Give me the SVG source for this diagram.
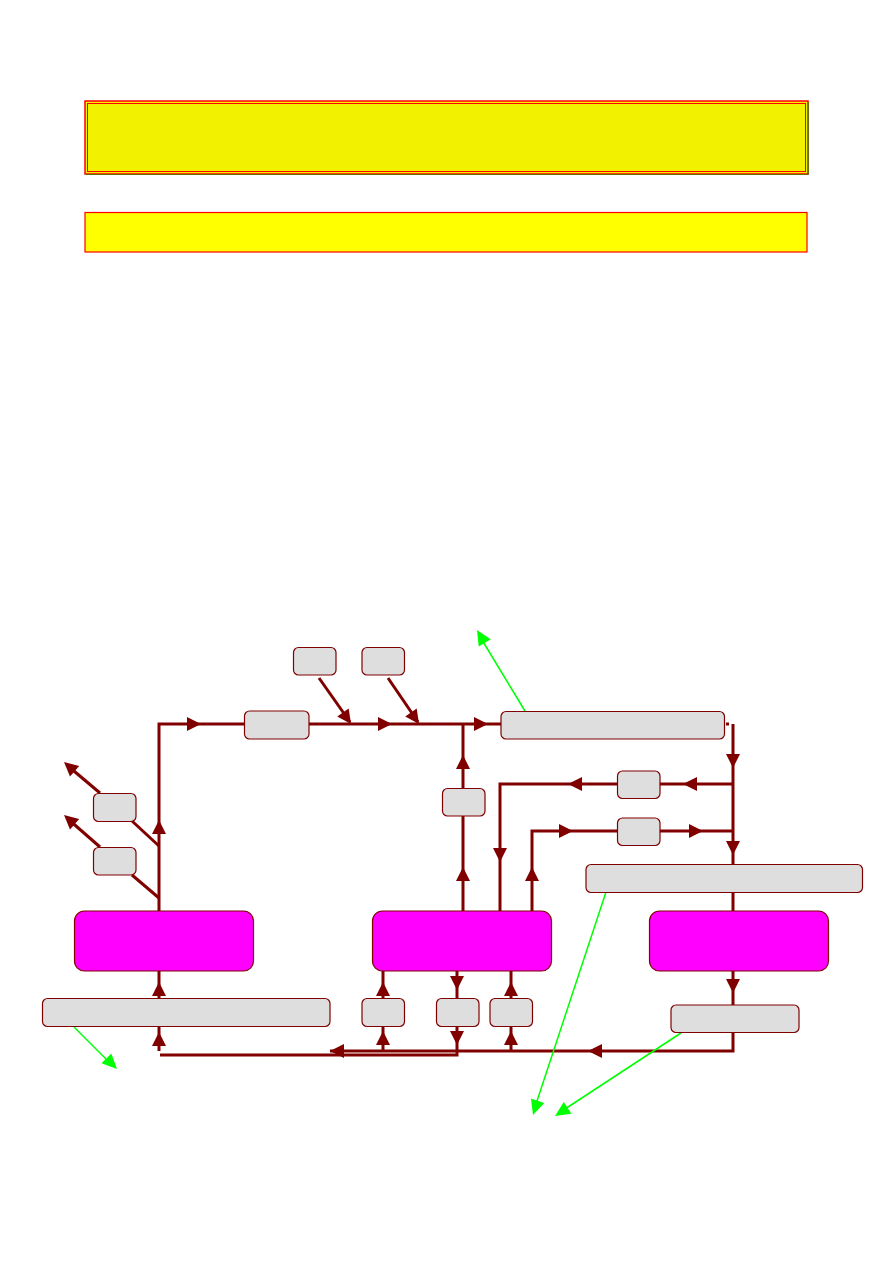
<svg xmlns="http://www.w3.org/2000/svg" xmlns:xlink="http://www.w3.org/1999/xlink" width="893" height="1263" viewBox="0 0 893 1263">
<style>
.ln{stroke:#800000;stroke-width:3;fill:none}
.gl{stroke:#00ff00;stroke-width:1.5;fill:none}
.bx{fill:#dedede;stroke:#800000;stroke-width:1.2}
.mg{fill:#ff00ff;stroke:#800000;stroke-width:1.2}
</style>
<defs>
<polygon id="ah" points="0,0 -14,-7 -14,7" fill="#800000"/>
<polygon id="gh" points="0,0 -15,-7 -15,7" fill="#00ff00"/>
</defs>
<g id="title1">
<rect x="85" y="101" width="723" height="73" fill="#f2f200" stroke="#ff0000" stroke-width="1.5"/>
<rect x="87.5" y="103.5" width="718" height="68" fill="none" stroke="#ff0000" stroke-width="1"/>
<polyline points="86,174.5 808.5,174.5 808.5,102" fill="none" stroke="#6b6b00" stroke-width="1"/>
</g>
<g id="title2">
<rect x="85" y="212.5" width="722" height="39.5" fill="#ffff00" stroke="#ff0000" stroke-width="1.2"/>
</g>
<g id="connectors">
<polyline class="ln" points="159,911 159,724 245,724"/>
<line class="ln" x1="309" y1="724" x2="501" y2="724"/>
<line class="ln" x1="319" y1="678" x2="350" y2="722"/>
<line class="ln" x1="388" y1="678" x2="418" y2="722"/>
<line class="ln" x1="463" y1="724" x2="463" y2="788"/>
<line class="ln" x1="463" y1="816" x2="463" y2="911"/>
<polyline class="ln" points="500,911 500,784 617,784"/>
<line class="ln" x1="660" y1="784" x2="733" y2="784"/>
<polyline class="ln" points="532,911 532,831 617,831"/>
<line class="ln" x1="660" y1="831" x2="733" y2="831"/>
<rect x="726" y="722.5" width="3" height="3" fill="#800000"/>
<line class="ln" x1="733" y1="724" x2="733" y2="864"/>
<line class="ln" x1="733" y1="892" x2="733" y2="911"/>
<line class="ln" x1="733" y1="971" x2="733" y2="1005"/>
<polyline class="ln" points="733,1033 733,1051 330,1051"/>
<line class="ln" x1="159" y1="1027" x2="159" y2="1051"/>
<polyline class="ln" points="160,1055 457,1055 457,1027"/>
<line class="ln" x1="159" y1="971" x2="159" y2="998"/>
<line class="ln" x1="383" y1="971" x2="383" y2="998"/>
<line class="ln" x1="457" y1="971" x2="457" y2="998"/>
<line class="ln" x1="511" y1="971" x2="511" y2="998"/>
<line class="ln" x1="383" y1="1027" x2="383" y2="1051"/>
<line class="ln" x1="511" y1="1027" x2="511" y2="1051"/>
<line class="ln" x1="132" y1="821" x2="159" y2="846"/>
<line class="ln" x1="132" y1="875" x2="159" y2="898"/>
<line class="ln" x1="100" y1="793" x2="68" y2="766"/>
<line class="ln" x1="100" y1="847" x2="68" y2="819"/>
<line class="gl" x1="525" y1="711" x2="482" y2="640"/>
<line class="gl" x1="74" y1="1027" x2="109" y2="1062"/>
<line class="gl" x1="606" y1="892" x2="536" y2="1104"/>
<line class="gl" x1="681" y1="1033" x2="565" y2="1109"/>
<use xlink:href="#ah" transform="translate(201,724)"/>
<use xlink:href="#ah" transform="translate(392,724)"/>
<use xlink:href="#ah" transform="translate(488,724)"/>
<use xlink:href="#ah" transform="translate(573,831)"/>
<use xlink:href="#ah" transform="translate(703,831)"/>
<use xlink:href="#ah" transform="translate(159,820) rotate(-90)"/>
<use xlink:href="#ah" transform="translate(463,755) rotate(-90)"/>
<use xlink:href="#ah" transform="translate(463,867) rotate(-90)"/>
<use xlink:href="#ah" transform="translate(532,867) rotate(-90)"/>
<use xlink:href="#ah" transform="translate(159,982) rotate(-90)"/>
<use xlink:href="#ah" transform="translate(159,1032) rotate(-90)"/>
<use xlink:href="#ah" transform="translate(383,982) rotate(-90)"/>
<use xlink:href="#ah" transform="translate(383,1031) rotate(-90)"/>
<use xlink:href="#ah" transform="translate(511,982) rotate(-90)"/>
<use xlink:href="#ah" transform="translate(511,1031) rotate(-90)"/>
<use xlink:href="#ah" transform="translate(733,768) rotate(90)"/>
<use xlink:href="#ah" transform="translate(733,855) rotate(90)"/>
<use xlink:href="#ah" transform="translate(500,862) rotate(90)"/>
<use xlink:href="#ah" transform="translate(457,990) rotate(90)"/>
<use xlink:href="#ah" transform="translate(457,1045) rotate(90)"/>
<use xlink:href="#ah" transform="translate(733,993) rotate(90)"/>
<use xlink:href="#ah" transform="translate(683,784) rotate(180)"/>
<use xlink:href="#ah" transform="translate(568,784) rotate(180)"/>
<use xlink:href="#ah" transform="translate(330,1051) rotate(180)"/>
<use xlink:href="#ah" transform="translate(588,1051) rotate(180)"/>
<use xlink:href="#ah" transform="translate(351,724) rotate(55)"/>
<use xlink:href="#ah" transform="translate(419,724) rotate(55)"/>
<use xlink:href="#ah" transform="translate(64,762) rotate(221)"/>
<use xlink:href="#ah" transform="translate(64,815) rotate(221)"/>
<use xlink:href="#gh" transform="translate(477,630) rotate(239)"/>
<use xlink:href="#gh" transform="translate(117,1069) rotate(45)"/>
<use xlink:href="#gh" transform="translate(533,1115) rotate(108)"/>
<use xlink:href="#gh" transform="translate(555,1116) rotate(147)"/>
</g>
<g id="boxA"><rect class="bx" x="244.5" y="711" width="64.5" height="28" rx="5"/></g>
<g id="boxT1"><rect class="bx" x="293.5" y="647.5" width="42.5" height="27.5" rx="5"/></g>
<g id="boxT2"><rect class="bx" x="362" y="647.5" width="42.5" height="27.5" rx="5"/></g>
<g id="boxB"><rect class="bx" x="501" y="711.5" width="223.5" height="27.5" rx="5"/></g>
<g id="boxC"><rect class="bx" x="442.5" y="788.5" width="42.5" height="27.5" rx="5"/></g>
<g id="boxD"><rect class="bx" x="617.5" y="771" width="42.5" height="27.5" rx="5"/></g>
<g id="boxE"><rect class="bx" x="617.5" y="818" width="42.5" height="27.5" rx="5"/></g>
<g id="boxF"><rect class="bx" x="586" y="864.5" width="276.5" height="28" rx="5"/></g>
<g id="boxL1"><rect class="bx" x="93.5" y="793.5" width="42.5" height="28" rx="5"/></g>
<g id="boxL2"><rect class="bx" x="93.5" y="847.5" width="42.5" height="27.5" rx="5"/></g>
<g id="mag1"><rect class="mg" x="74.5" y="911" width="179" height="60" rx="10"/></g>
<g id="mag2"><rect class="mg" x="372.5" y="911" width="179" height="60" rx="10"/></g>
<g id="mag3"><rect class="mg" x="649.5" y="911" width="179" height="60" rx="10"/></g>
<g id="boxG"><rect class="bx" x="42.5" y="998.5" width="287.5" height="28" rx="5"/></g>
<g id="boxH"><rect class="bx" x="362" y="998.5" width="42.5" height="28" rx="5"/></g>
<g id="boxI"><rect class="bx" x="436.5" y="998.5" width="42.5" height="28" rx="5"/></g>
<g id="boxJ"><rect class="bx" x="490" y="998.5" width="42.5" height="28" rx="5"/></g>
<g id="boxK"><rect class="bx" x="671" y="1005" width="128" height="27.5" rx="5"/></g>
</svg>
